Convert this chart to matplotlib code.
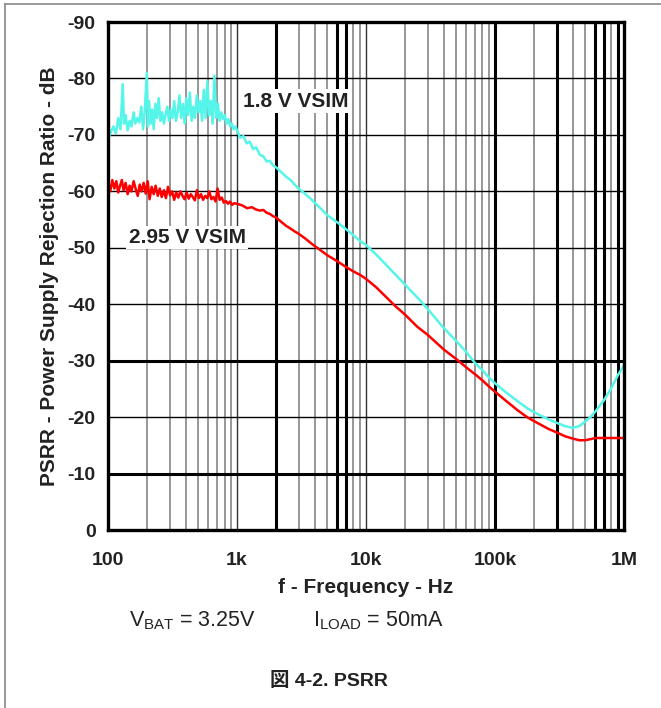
import matplotlib
matplotlib.use("Agg")
import matplotlib.pyplot as plt
from matplotlib.lines import Line2D

plt.rcParams['font.family'] = ['Liberation Sans', 'Noto Sans CJK JP', 'DejaVu Sans']
plt.rcParams['mathtext.fontset'] = 'custom'
plt.rcParams['mathtext.rm'] = 'Liberation Sans'
plt.rcParams['axes.unicode_minus'] = False

# data (Hz, dB)
freq_18 = [100, 105, 110, 115, 120, 125, 130, 133, 137, 142, 147, 152, 158, 163, 169, 175,
           181, 187, 193, 200, 204, 208, 214, 220, 226, 233, 240, 247, 255, 263, 271, 279,
           288, 297, 306, 316, 326, 336, 347, 358, 369, 381, 393, 405, 418, 431, 445, 459,
           473, 488, 504, 520, 536, 553, 571, 589, 608, 627, 647, 668, 689, 711, 733, 757,
           781, 806, 831, 858, 885, 913, 942, 972, 1000, 1060, 1120, 1190, 1260, 1330, 1410,
           1500, 1600, 1700, 1800, 1900, 2000, 2200, 2400, 2600, 2800, 3000, 3400, 3800,
           4300, 5000, 6000, 7000, 8000, 9000, 10000, 12000, 14000, 17000, 20000, 25000,
           30000, 40000, 50000, 60000, 70000, 80000, 90000, 100000, 120000, 150000, 180000,
           220000, 260000, 300000, 350000, 400000, 450000, 500000, 550000, 600000, 700000,
           800000, 900000, 1000000]
psrr_18 = [-69.0, -70.5, -71.5, -70.2, -73.0, -71.0, -79.0, -72.0, -73.5, -70.8, -72.5, -71.5,
           -74.0, -72.0, -73.0, -72.2, -75.0, -71.0, -74.5, -81.0, -71.5, -76.0, -72.0, -74.5,
           -71.0, -75.5, -73.0, -76.5, -72.5, -74.0, -72.0, -73.5, -75.0, -72.5, -74.5, -73.0,
           -76.0, -72.5, -74.0, -77.0, -73.0, -75.5, -72.0, -76.5, -73.5, -77.5, -72.5, -75.0,
           -73.0, -77.0, -74.0, -76.0, -72.5, -78.0, -73.0, -79.5, -73.5, -76.0, -72.0, -80.5,
           -73.0, -75.5, -72.5, -74.0, -72.8, -73.5, -72.0, -72.8, -71.5, -72.0, -71.0, -71.5,
           -70.8, -69.5, -69.8, -68.5, -68.8, -67.5, -67.8, -66.5, -66.2, -65.3, -65.4, -64.6,
           -64.3, -63.4, -62.6, -62.0, -61.2, -60.5, -59.5, -58.5, -57.3, -55.8, -54.5, -53.3,
           -52.2, -51.2, -50.5, -48.8, -47.2, -45.2, -43.5, -41.2, -39.2, -35.8, -33.5, -31.5,
           -29.6, -28.3, -27.0, -26.0, -24.5, -22.8, -21.5, -20.4, -19.6, -19.0, -18.4, -18.1,
           -18.4, -19.2, -20.0, -21.0, -23.0, -25.2, -27.5, -29.2]

freq_295 = [100, 104, 108, 112, 116, 120, 124, 128, 132, 137, 142, 147, 152, 158, 164, 170,
            176, 182, 189, 196, 203, 210, 218, 226, 234, 243, 252, 261, 271, 281, 292, 303,
            314, 326, 338, 351, 364, 378, 392, 407, 422, 438, 454, 471, 489, 507, 526, 546,
            567, 588, 610, 633, 657, 682, 707, 734, 762, 790, 820, 851, 883, 916, 950, 1000,
            1100, 1200, 1300, 1400, 1500, 1600, 1700, 1800, 1900, 2000, 2200, 2400, 2600,
            2800, 3000, 3400, 3800, 4300, 5000, 6000, 7000, 8000, 9000, 10000, 12000, 14000,
            17000, 20000, 25000, 30000, 40000, 50000, 60000, 70000, 80000, 90000, 100000,
            120000, 150000, 180000, 220000, 260000, 300000, 350000, 400000, 450000, 500000,
            550000, 600000, 700000, 800000, 1000000]
psrr_295 = [-61.5, -60.0, -62.0, -60.5, -61.8, -59.8, -61.0, -62.0, -60.2, -61.5, -59.5, -61.0,
            -60.0, -61.8, -60.4, -59.2, -61.2, -60.0, -61.5, -59.6, -61.8, -58.6, -60.8, -59.5,
            -61.0, -59.2, -60.5, -59.0, -60.2, -58.8, -60.8, -59.3, -60.0, -58.5, -59.8, -58.9,
            -60.0, -59.2, -58.6, -59.8, -58.7, -59.5, -59.0, -58.4, -60.2, -58.8, -59.5, -58.5,
            -59.2, -58.8, -60.0, -58.6, -59.0, -58.2, -60.5, -58.5, -58.9, -58.0, -58.3, -57.8,
            -58.2, -57.6, -57.9, -57.8, -57.5, -57.0, -57.2, -56.8, -56.6, -56.7, -56.2, -56.0,
            -55.6, -55.4, -54.6, -53.9, -53.4, -52.9, -52.5, -51.6, -50.7, -49.8, -48.7, -47.6,
            -46.6, -45.8, -45.2, -44.5, -43.0, -41.5, -39.6, -38.2, -36.0, -34.6, -32.0, -30.3,
            -28.8, -27.6, -26.5, -25.4, -24.5, -23.0, -21.2, -19.9, -18.8, -17.9, -17.3, -16.6,
            -16.2, -15.9, -15.9, -16.1, -16.3, -16.3, -16.3, -16.3]

x_ticks = [100, 1000, 10000, 100000, 1000000]
x_ticklabels = ["100", "1k", "10k", "100k", "1M"]
y_ticks = [0, -10, -20, -30, -40, -50, -60, -70, -80, -90]

# grid lines: which ones come out thick in the scanned original
thick_v = [2000, 6000, 7000, 100000, 300000, 600000, 700000, 900000]
thick_h = [-30, -10]

fig = plt.figure(figsize=(6.61, 7.08), dpi=100)
ax = fig.add_axes([0.1634, 0.2514, 0.7806, 0.7175])

# vertical grid
for dec in [100, 1000, 10000, 100000]:
    for m in range(1, 10):
        f = dec * m
        if f == 100:
            continue
        if f in thick_v:
            ax.axvline(f, color="black", lw=2.2, zorder=1)
        elif f in (1000, 10000):
            ax.axvline(f, color="#333333", lw=1.0, zorder=1)
        else:
            ax.axvline(f, color="#7a7a7a", lw=1.1, zorder=1)

# horizontal grid
for v in y_ticks[1:-1]:
    if v in thick_h:
        ax.axhline(v, color="black", lw=2.2, zorder=1)
    else:
        ax.axhline(v, color="black", lw=1.0, zorder=1)

ax.plot(freq_18, psrr_18, color="#55f5ea", lw=1.8, zorder=3)
ax.plot(freq_295, psrr_295, color="#ff0000", lw=1.8, zorder=4)

ax.set_xscale("log")
ax.set_xlim(100, 1000000)
ax.set_ylim(0, -90)
ax.set_xticks(x_ticks)
ax.set_xticklabels(x_ticklabels)
ax.minorticks_off()
ax.set_yticks(y_ticks)
ax.tick_params(length=0, labelsize=14, pad=9, colors="#222222")
ax.tick_params(axis="x", pad=16)
for lab in ax.get_xticklabels() + ax.get_yticklabels():
    lab.set_fontweight("bold")
for s in ax.spines.values():
    s.set_linewidth(2.4)
    s.set_color("black")
    s.set_zorder(5)

ax.set_xlabel("f - Frequency - Hz", fontsize=15, fontweight="bold", color="#222222", labelpad=6)
ax.set_ylabel("PSRR - Power Supply Rejection Ratio - dB", fontsize=15, fontweight="bold",
              color="#222222", labelpad=6)

box = dict(facecolor="white", edgecolor="none", pad=1.5)
ax.text(2860, -76, "1.8 V VSIM", fontsize=15, fontweight="bold", color="#222222",
        ha="center", va="center", bbox=box, zorder=6)
ax.text(410, -51.8, "2.95 V VSIM", fontsize=15, fontweight="bold", color="#222222",
        ha="center", va="center", bbox=box, zorder=6)

fig.text(0.291, 0.124, r"V$_{\mathregular{BAT}}$ = 3.25V", fontsize=15.5, color="#222222",
         ha="center", va="center")
fig.text(0.572, 0.124, r"I$_{\mathregular{LOAD}}$ = 50mA", fontsize=15.5, color="#222222",
         ha="center", va="center")
fig.text(0.497, 0.038, "図 4-2. PSRR", fontsize=14, fontweight="bold", color="#222222",
         ha="center", va="center")

# frame lines around the figure (top and left)
fig.add_artist(Line2D([0.007, 1.0], [0.994, 0.994], color="#888888", lw=1.2))
fig.add_artist(Line2D([0.007, 0.007], [0.0, 0.994], color="#888888", lw=1.2))

fig.savefig("out.png", dpi=100)
